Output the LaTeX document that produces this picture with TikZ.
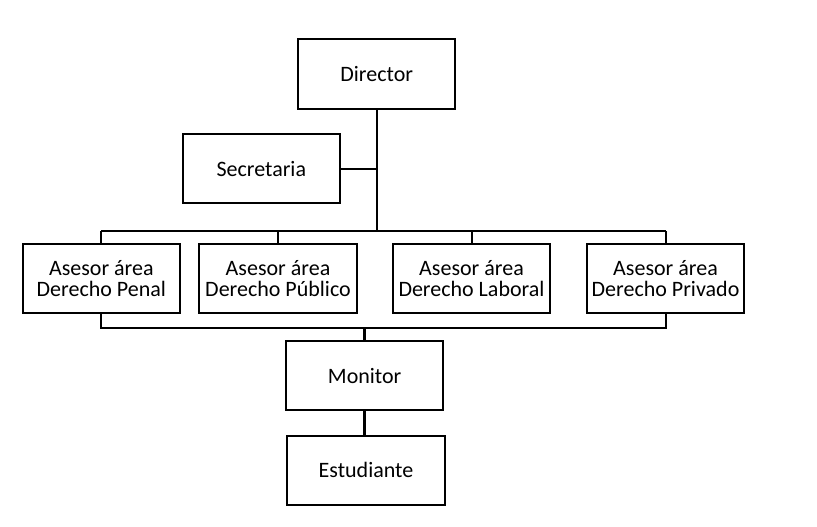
\documentclass[tikz,border=0pt]{standalone}
\usepackage{fontspec}
\setmainfont{Carlito}
\usepackage{tikz}

\begin{document}
\begin{tikzpicture}[x=1pt, y=-1pt,
  cargo/.style={draw, line width=2pt, minimum width=157.5pt, minimum height=69pt,
    align=center, font=\fontsize{22}{20.7}\selectfont},
  enlace/.style={line width=2pt},
  enlacegrueso/.style={line width=3.5pt}]
\useasboundingbox (0,0) rectangle (817,527);

\node[cargo] (dir) at (376.7,74) {Director};
\node[cargo] (sec) at (261.3,168.8) {Secretaria};

\node[cargo] (penal)   at (101.3,278.3) {Asesor área\\Derecho Penal};
\node[cargo] (publico) at (278,278.3)   {Asesor área\\Derecho Público};
\node[cargo] (laboral) at (471.5,278.3) {Asesor área\\Derecho Laboral};
\node[cargo] (privado) at (665.5,278.3) {Asesor área\\Derecho Privado};

\node[cargo] (mon) at (364.7,375.8) {Monitor};
\node[cargo] (est) at (366,470.3)   {Estudiante};

\coordinate (arriba) at (376.7,230.5);
\coordinate (abajo)  at (365,328);

% director y secretaria
\draw[enlace] (dir.south) -- (arriba);
\draw[enlace] (sec.east) -- (sec.east -| dir.south);

% asesores
\draw[enlace] (penal.north |- arriba) -- (privado.north |- arriba);
\foreach \a in {penal,publico,laboral,privado}
  \draw[enlace] (\a.north) -- (\a.north |- arriba);
\draw[enlace] (penal.south) -- (penal.south |- abajo) -- (privado.south |- abajo) -- (privado.south);

% monitor y estudiante
\draw[enlacegrueso] (mon.north) -- (mon.north |- abajo);
\draw[enlacegrueso] (mon.south) -- (mon.south |- est.north);

\end{tikzpicture}
\end{document}
